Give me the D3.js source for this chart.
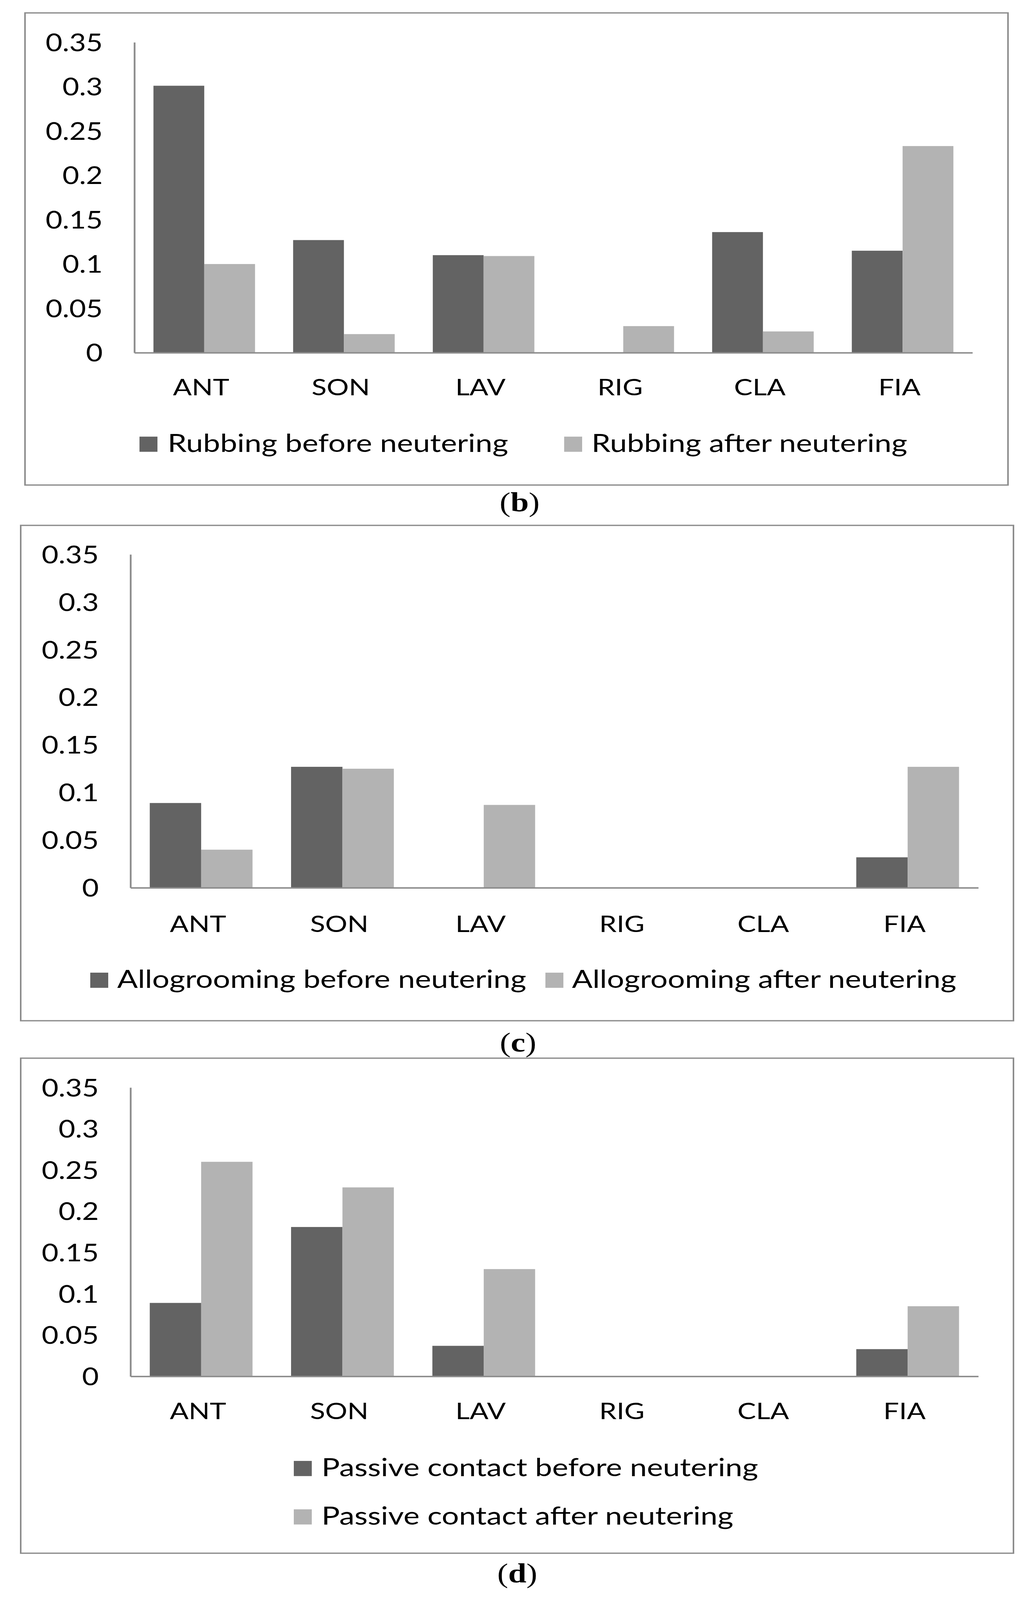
<!DOCTYPE html>
<html>
<head>
<meta charset="utf-8">
<script src="https://cdn.jsdelivr.net/npm/d3@7"></script>
<style>
  html, body { margin: 0; padding: 0; background: #ffffff; overflow: hidden; width: 100%; height: 100%; }
  svg { display: block; width: 100vw; height: 100vh; }
</style>
</head>
<body>
<svg id="chart" viewBox="0 0 2644 4958" preserveAspectRatio="none"></svg>
<script>
// ---------------- data ----------------
const categories = ["ANT", "SON", "LAV", "RIG", "CLA", "FIA"];
const yTickValues = [0, 0.05, 0.1, 0.15, 0.2, 0.25, 0.3, 0.35];
const yTickLabels = ["0", "0.05", "0.1", "0.15", "0.2", "0.25", "0.3", "0.35"];

const rubbingSeries = ["Rubbing before neutering", "Rubbing after neutering"];
const rubbingBefore = [0.301, 0.127, 0.110, 0.000, 0.136, 0.115];
const rubbingAfter  = [0.100, 0.021, 0.109, 0.030, 0.024, 0.233];

const alloSeries = ["Allogrooming before neutering", "Allogrooming after neutering"];
const alloBefore = [0.089, 0.127, 0.000, 0.000, 0.000, 0.032];
const alloAfter  = [0.040, 0.125, 0.087, 0.000, 0.000, 0.127];

const passiveSeries = ["Passive contact before neutering", "Passive contact after neutering"];
const passiveBefore = [0.089, 0.181, 0.037, 0.000, 0.000, 0.033];
const passiveAfter  = [0.260, 0.229, 0.130, 0.000, 0.000, 0.085];

const captions = ["b", "c", "d"];

// ---------------- styles ----------------
const seriesColors = ["#636363", "#b3b3b3"];
const lineColor = "#8c8c8c";
const textFont = "Lato, 'Open Sans', sans-serif";
const capFont = "'Liberation Serif', 'Times New Roman', serif";

const panels = [
  {
    series: rubbingSeries, values: [rubbingBefore, rubbingAfter], caption: captions[0],
    frame: {x0: 64, y0: 40, x1: 2580, y1: 1503},
    plot: {x0: 344, x1: 2489, yTop: 131, yBottom: 1093},
    catBaseline: 1225,
    legend: {rows: [[{x: 357, tx: 429}, {x: 1444, tx: 1514}]], baselines: [1400]},
    capX: 1330, capBaseline: 1585
  },
  {
    series: alloSeries, values: [alloBefore, alloAfter], caption: captions[1],
    frame: {x0: 53, y0: 1628, x1: 2594, y1: 3163},
    plot: {x0: 334, x1: 2504, yTop: 1718, yBottom: 2751},
    catBaseline: 2888,
    legend: {rows: [[{x: 231, tx: 300}, {x: 1396, tx: 1464}]], baselines: [3061]},
    capX: 1326, capBaseline: 3258
  },
  {
    series: passiveSeries, values: [passiveBefore, passiveAfter], caption: captions[2],
    frame: {x0: 53, y0: 3279, x1: 2594, y1: 4813},
    plot: {x0: 334, x1: 2504, yTop: 3370, yBottom: 4265},
    catBaseline: 4397,
    legend: {rows: [[{x: 752, tx: 823}], [{x: 752, tx: 823}]], baselines: [4574, 4724]},
    capX: 1324, capBaseline: 4903
  }
];

const svg = d3.select("#chart");

panels.forEach(p => {
  const g = svg.append("g");

  g.append("rect")
    .attr("x", p.frame.x0).attr("y", p.frame.y0)
    .attr("width", p.frame.x1 - p.frame.x0)
    .attr("height", p.frame.y1 - p.frame.y0)
    .attr("fill", "#ffffff")
    .attr("stroke", lineColor)
    .attr("stroke-width", 4);

  const x0 = d3.scaleBand()
    .domain(categories)
    .range([p.plot.x0, p.plot.x1])
    .paddingInner(0.2727)
    .paddingOuter(0.1364);
  const x1 = d3.scaleBand()
    .domain(p.series)
    .range([0, x0.bandwidth()]);
  const y = d3.scaleLinear()
    .domain([0, 0.35])
    .range([p.plot.yBottom, p.plot.yTop]);
  const color = d3.scaleOrdinal().domain(p.series).range(seriesColors);

  const rows = categories.map((c, i) => ({
    cat: c,
    vals: p.series.map((s, j) => ({series: s, value: p.values[j][i]}))
  }));
  const grp = g.append("g").selectAll("g").data(rows).join("g")
    .attr("transform", d => `translate(${x0(d.cat)},0)`);
  grp.selectAll("rect").data(d => d.vals).join("rect")
    .attr("x", d => x1(d.series))
    .attr("width", x1.bandwidth())
    .attr("y", d => y(d.value))
    .attr("height", d => y(0) - y(d.value))
    .attr("fill", d => color(d.series));

  const yAxis = d3.axisLeft(y)
    .tickValues(yTickValues)
    .tickFormat((d, i) => yTickLabels[i])
    .tickSize(0)
    .tickPadding(81);
  const ya = g.append("g")
    .attr("transform", `translate(${p.plot.x0},0)`)
    .call(yAxis);
  ya.select(".domain").attr("stroke", lineColor).attr("stroke-width", 4.5);
  ya.selectAll("text")
    .attr("font-family", textFont)
    .attr("font-size", 74)
    .attr("fill", "#000000")
    .attr("dy", "0.36em");

  const xAxis = d3.axisBottom(x0).tickSize(0).tickPadding(0);
  const xa = g.append("g")
    .attr("transform", `translate(0,${p.plot.yBottom})`)
    .call(xAxis);
  xa.select(".domain").attr("stroke", lineColor).attr("stroke-width", 4.5);
  xa.selectAll("text")
    .attr("font-family", textFont)
    .attr("font-size", 71)
    .attr("fill", "#000000")
    .attr("dy", 0)
    .attr("x", -8)
    .attr("y", p.catBaseline - p.plot.yBottom);

  let k = 0;
  p.legend.rows.forEach((row, ri) => {
    const base = p.legend.baselines[ri];
    row.forEach(item => {
      const name = p.series[k++];
      g.append("rect")
        .attr("x", item.x).attr("y", base - 47)
        .attr("width", 46).attr("height", 47)
        .attr("fill", color(name));
      g.append("text")
        .attr("x", item.tx).attr("y", base)
        .attr("font-family", textFont)
        .attr("font-size", 78)
        .attr("fill", "#000000")
        .text(name);
    });
  });

  const cap = svg.append("text")
    .attr("x", p.capX).attr("y", p.capBaseline)
    .attr("text-anchor", "middle")
    .attr("font-family", capFont)
    .attr("font-size", 84)
    .attr("fill", "#000000");
  cap.append("tspan").text("(");
  cap.append("tspan").attr("font-weight", "bold").text(p.caption);
  cap.append("tspan").text(")");
});
</script>
</body>
</html>
